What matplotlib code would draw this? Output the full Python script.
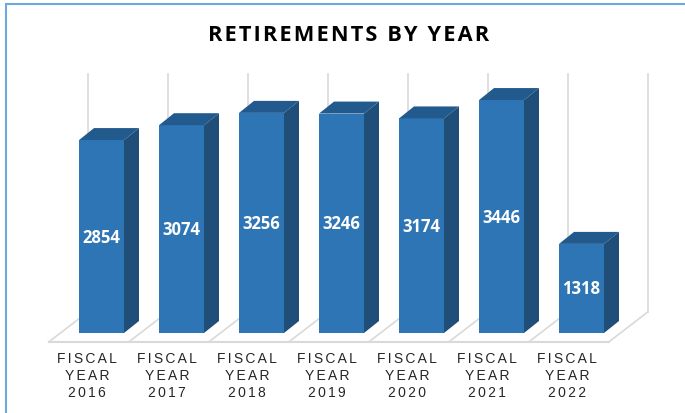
import matplotlib
matplotlib.use('Agg')
from matplotlib import pyplot as plt
from matplotlib.patches import Rectangle

# Retirement counts per fiscal year
years = ['2016', '2017', '2018', '2019', '2020', '2021', '2022']
retirements = [2854, 3074, 3256, 3246, 3174, 3446, 1318]

title = 'RETIREMENTS BY YEAR'
word = 'FISCAL'
word2 = 'YEAR'

W, H = 685, 414
PX_PER_CAT = 80
PX_PER_UNIT = 0.0676
X0 = 101.5   # pixel x of the first category centre
Y0 = 334     # pixel y of the baseline


def spaced(s, gap=1):
    # matplotlib has no letter spacing, so put hair spaces between the letters
    return ('\u200a' * gap).join(s)


fig = plt.figure(figsize=(W / 100, H / 100), dpi=100)
ax = fig.add_axes([0, 0, 1, 1])
ax.set_xlim(-X0 / PX_PER_CAT, (W - X0) / PX_PER_CAT)
ax.set_ylim(-(H - Y0) / PX_PER_UNIT, Y0 / PX_PER_UNIT)
ax.axis('off')

# 3D offsets in data units
dx = 15 / PX_PER_CAT
dy = 12 / PX_PER_UNIT
bar_w = 45 / PX_PER_CAT

# Floor and back wall
grid = '#d9d9d9'
fx = -0.5 - 0.16
fy = -9 / PX_PER_UNIT
bx = 39 / PX_PER_CAT
by = 30 / PX_PER_UNIT
top = (Y0 - 75) / PX_PER_UNIT
n = len(years)
ax.plot([fx, fx + n], [fy, fy], color=grid, lw=1.5, zorder=1)
for i in range(n + 1):
    ax.plot([fx + i, fx + i + bx], [fy, fy + by], color=grid, lw=1.2, zorder=1)
    ax.plot([fx + i + bx, fx + i + bx], [fy + by, top], color=grid, lw=1.2, zorder=1)

# Bars: front face, top and side
for i, v in enumerate(retirements):
    l = i - bar_w / 2
    r = i + bar_w / 2
    ax.bar(i, v, width=bar_w, color='#2e75b6', zorder=3)
    ax.fill([l, r, r + dx, l + dx], [v, v, v + dy, v + dy], color='#235a8e', lw=0, zorder=3)
    ax.fill([r, r + dx, r + dx, r], [0, dy, v + dy, v], color='#1f4e79', lw=0, zorder=3)
    ax.text(i, v / 2, str(v), color='white', fontsize=12, fontweight='bold',
            family='Open Sans', ha='center', va='center', zorder=4)
    ax.text(i - 0.18, -(359 - Y0) / PX_PER_UNIT, spaced(word, 2), fontsize=10, color='#262626',
            family=['Liberation Sans', 'DejaVu Sans'], ha='center', va='center')
    ax.text(i - 0.18, -(376 - Y0) / PX_PER_UNIT, spaced(word2, 2), fontsize=10, color='#262626',
            family=['Liberation Sans', 'DejaVu Sans'], ha='center', va='center')
    ax.text(i - 0.18, -(393 - Y0) / PX_PER_UNIT, spaced(years[i], 2), fontsize=10, color='#262626',
            family=['Liberation Sans', 'DejaVu Sans'], ha='center', va='center')

fig.text(349 / W, 1 - 35.5 / H, spaced(title), fontsize=15.7, fontweight='bold', color='black',
         family=['Open Sans', 'DejaVu Sans'], ha='center', va='center')

# Blue frame round the chart
fig.add_artist(Rectangle((5.5 / W, -0.1), 1.2, 1.1 - 4.5 / H, transform=fig.transFigure,
                         fill=False, ec='#6fa8dc', lw=1.5))

fig.savefig('out.png', dpi=100)
